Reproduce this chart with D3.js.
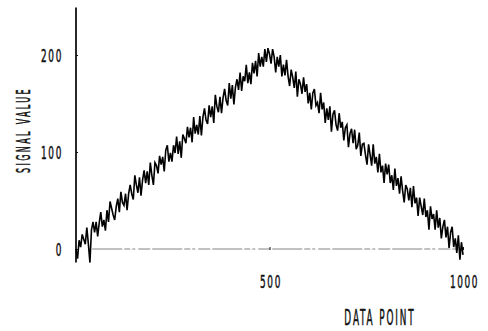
<!DOCTYPE html>
<html><head><meta charset="utf-8">
<script src="https://cdn.jsdelivr.net/npm/d3@7"></script>
<style>
html,body{margin:0;padding:0;background:#fff;}
svg text{font-family:"DejaVu Sans Condensed","Liberation Sans Narrow",sans-serif;fill:#111;stroke:#111;stroke-width:0.5px;}
</style></head>
<body><svg id="c" width="488" height="331"></svg>
<script>
// Data: one value every 4 data points
const step = 4;
const rising = [0,-10,9,2,15,10,5,22,5,-14,20,28,17,28,13,27,38,23,30,19,40,28,49,42,35,30,44,52,38,59,48,45,57,40,57,66,57,51,76,66,58,74,55,71,81,68,80,66,89,76,66,89,86,78,96,87,95,80,102,107,90,99,90,107,99,116,98,111,94,118,114,109,126,115,125,110,136,119,128,118,137,117,136,145,133,129,148,136,147,130,159,147,141,157,140,156,165,153,148,171,155,169,149,167,175,164,182,163,178,173,190,171,182,170,192,181,194,178,202,188,198,188,206,193,207,201];
const falling = [191,206,198,182,198,188,200,178,190,179,195,178,168,185,177,166,183,157,175,170,160,177,162,170,150,161,144,161,165,148,151,140,161,144,151,130,145,133,147,121,139,143,128,122,140,125,131,112,125,128,105,119,124,109,123,103,107,120,96,108,109,97,87,108,97,86,108,88,95,79,98,79,86,68,88,77,87,68,76,61,83,65,73,57,75,60,48,66,62,50,63,43,65,47,53,34,53,44,35,52,33,40,20,44,31,36,20,40,22,32,11,23,30,12,23,1,17,23,2,11,-4,14,-11,7,-6];
const signal = rising.concat(falling);
const xTicks = [500, 1000];
const yTicks = [0, 100, 200];
const xLabel = "DATA POINT";
const yLabel = "SIGNAL VALUE";

const svg = d3.select("#c");
const x = d3.scaleLinear().domain([0, 1000]).range([76, 463]);
const y = d3.scaleLinear().domain([0, 200]).range([249, 55]);
const SX = 0.55;

// y axis line
svg.append("line").attr("x1", 76).attr("x2", 76)
  .attr("y1", y(249)).attr("y2", y(-14))
  .attr("stroke", "#111").attr("stroke-width", 1.8);

// y tick labels
const yAx = d3.axisLeft(y).tickValues(yTicks).tickSize(0).tickPadding(14);
const gy = svg.append("g").attr("transform", "translate(76,0)").call(yAx);
gy.select(".domain").remove();
gy.selectAll("text").attr("font-family", null).attr("font-size", null)
  .style("font-size", "18px").attr("letter-spacing", 3).attr("dy", "0.36em")
  .attr("x", 0).attr("transform", `translate(-13,0) scale(${SX},1)`);
gy.selectAll(".tick").append("line").attr("x1", 0).attr("x2", 2).attr("stroke", "#111");

// baseline (dashed, faint)
svg.append("line").attr("x1", x(42)).attr("x2", x(988))
  .attr("y1", y(0)).attr("y2", y(0))
  .attr("stroke", "#666").attr("stroke-width", 0.8)
  .attr("stroke-dasharray", "30,2,6,2,3,3,12,2");

// x tick labels
const xAx = d3.axisBottom(x).tickValues(xTicks).tickSize(0).tickPadding(0).tickFormat(d3.format("d"));
const gx = svg.append("g").attr("transform", `translate(0,${y(0)})`).call(xAx);
gx.select(".domain").remove();
gx.selectAll("text").attr("font-family", null).attr("font-size", null)
  .style("font-size", "18px").attr("letter-spacing", 3).attr("dy", 0)
  .attr("y", 0).attr("transform", `translate(1,39) scale(${SX},1)`);
gx.selectAll(".tick").append("line").attr("y1", -2).attr("y2", 1).attr("stroke", "#111");

// signal
const line = d3.line().x((d, i) => x(i * step)).y(d => y(d));
svg.append("path").datum(signal).attr("d", line)
  .attr("fill", "none").attr("stroke", "#000").attr("stroke-width", 1.6)
  .attr("stroke-linejoin", "miter");

// axis titles
svg.append("text").attr("transform", "translate(380,325) scale(0.47,1)")
  .attr("text-anchor", "middle").style("font-size", "21px")
  .attr("letter-spacing", 4).text(xLabel);
svg.append("text").attr("transform", "translate(30,130) rotate(-90) scale(0.47,1)")
  .attr("text-anchor", "middle").style("font-size", "19px")
  .attr("letter-spacing", 5).text(yLabel);
</script></body></html>
